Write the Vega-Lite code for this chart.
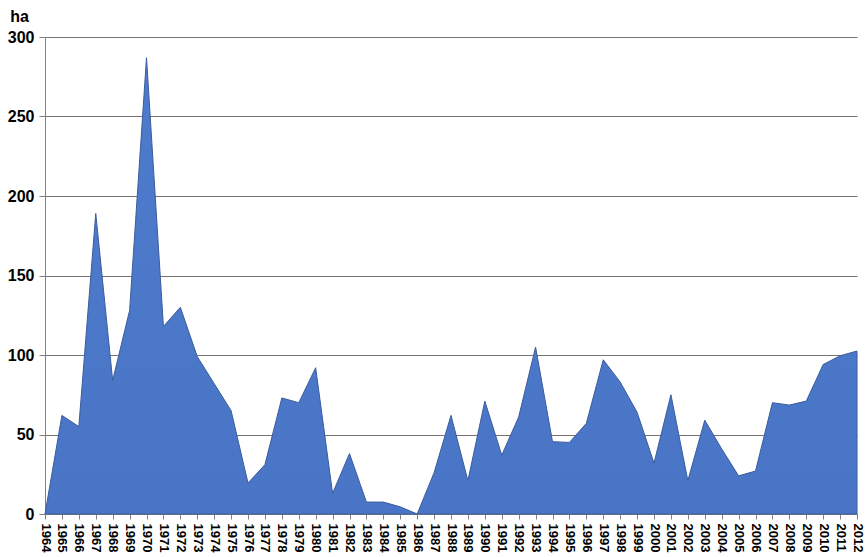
{
  "$schema": "https://vega.github.io/schema/vega-lite/v6.json",
  "width": 812,
  "height": 477,
  "autosize": "none",
  "padding": {"left": 45, "top": 37, "right": 11, "bottom": 43},
  "background": "white",
  "config": {
    "view": {"stroke": null},
    "font": "Liberation Sans"
  },
  "data": {
    "values": [
      {"year": "1964", "ha": 0},
      {"year": "1965", "ha": 62},
      {"year": "1966", "ha": 55},
      {"year": "1967", "ha": 189},
      {"year": "1968", "ha": 84},
      {"year": "1969", "ha": 128},
      {"year": "1970", "ha": 287},
      {"year": "1971", "ha": 118},
      {"year": "1972", "ha": 130},
      {"year": "1973", "ha": 99},
      {"year": "1974", "ha": 82},
      {"year": "1975", "ha": 65},
      {"year": "1976", "ha": 19.5},
      {"year": "1977", "ha": 31},
      {"year": "1978", "ha": 73},
      {"year": "1979", "ha": 70},
      {"year": "1980", "ha": 92},
      {"year": "1981", "ha": 13},
      {"year": "1982", "ha": 38},
      {"year": "1983", "ha": 7.5},
      {"year": "1984", "ha": 7.5},
      {"year": "1985", "ha": 4.5},
      {"year": "1986", "ha": 0},
      {"year": "1987", "ha": 26},
      {"year": "1988", "ha": 62},
      {"year": "1989", "ha": 21},
      {"year": "1990", "ha": 71},
      {"year": "1991", "ha": 37},
      {"year": "1992", "ha": 61},
      {"year": "1993", "ha": 105},
      {"year": "1994", "ha": 45.5},
      {"year": "1995", "ha": 45},
      {"year": "1996", "ha": 57},
      {"year": "1997", "ha": 97},
      {"year": "1998", "ha": 83},
      {"year": "1999", "ha": 64},
      {"year": "2000", "ha": 32},
      {"year": "2001", "ha": 75},
      {"year": "2002", "ha": 21},
      {"year": "2003", "ha": 59},
      {"year": "2004", "ha": 41},
      {"year": "2005", "ha": 24},
      {"year": "2006", "ha": 27},
      {"year": "2007", "ha": 70},
      {"year": "2008", "ha": 68.5},
      {"year": "2009", "ha": 71},
      {"year": "2010", "ha": 94},
      {"year": "2011", "ha": 99.5},
      {"year": "2012", "ha": 102.5}
    ]
  },
  "mark": {
    "type": "area",
    "line": false,
    "stroke": "#3b5c9c",
    "strokeWidth": 1,
    "color": {
      "x1": 0, "y1": 0, "x2": 0, "y2": 1,
      "gradient": "linear",
      "stops": [
        {"offset": 0, "color": "#4d7bcc"},
        {"offset": 1, "color": "#4a75c6"}
      ]
    },
    "interpolate": "linear"
  },
  "encoding": {
    "x": {
      "field": "year",
      "type": "ordinal",
      "scale": {"type": "point", "padding": 0},
      "axis": {
        "title": null,
        "labelAngle": 90,
        "labelAlign": "left",
        "labelBaseline": "middle",
        "labelFont": "Liberation Sans",
        "labelFontWeight": "bold",
        "labelFontSize": 13,
        "labelColor": "#000000",
        "labelPadding": 4,
        "tickSize": 5,
        "tickColor": "#808080",
        "domainColor": "#808080",
        "labelOverlap": false,
        "grid": false
      }
    },
    "y": {
      "field": "ha",
      "type": "quantitative",
      "scale": {"domain": [0, 300], "nice": false},
      "axis": {
        "title": "ha",
        "titleAngle": 0,
        "titleAlign": "center",
        "titleBaseline": "alphabetic",
        "titleX": -26,
        "titleY": -16,
        "titleFont": "Liberation Sans",
        "titleFontWeight": "bold",
        "titleFontSize": 16,
        "titleColor": "#000000",
        "values": [0, 50, 100, 150, 200, 250, 300],
        "labelFont": "Liberation Sans",
        "labelFontWeight": "bold",
        "labelFontSize": 16,
        "labelColor": "#000000",
        "labelPadding": 5,
        "tickSize": 6,
        "tickColor": "#808080",
        "domainColor": "#808080",
        "grid": true,
        "gridColor": "#7a7070",
        "gridWidth": 1
      }
    }
  }
}
